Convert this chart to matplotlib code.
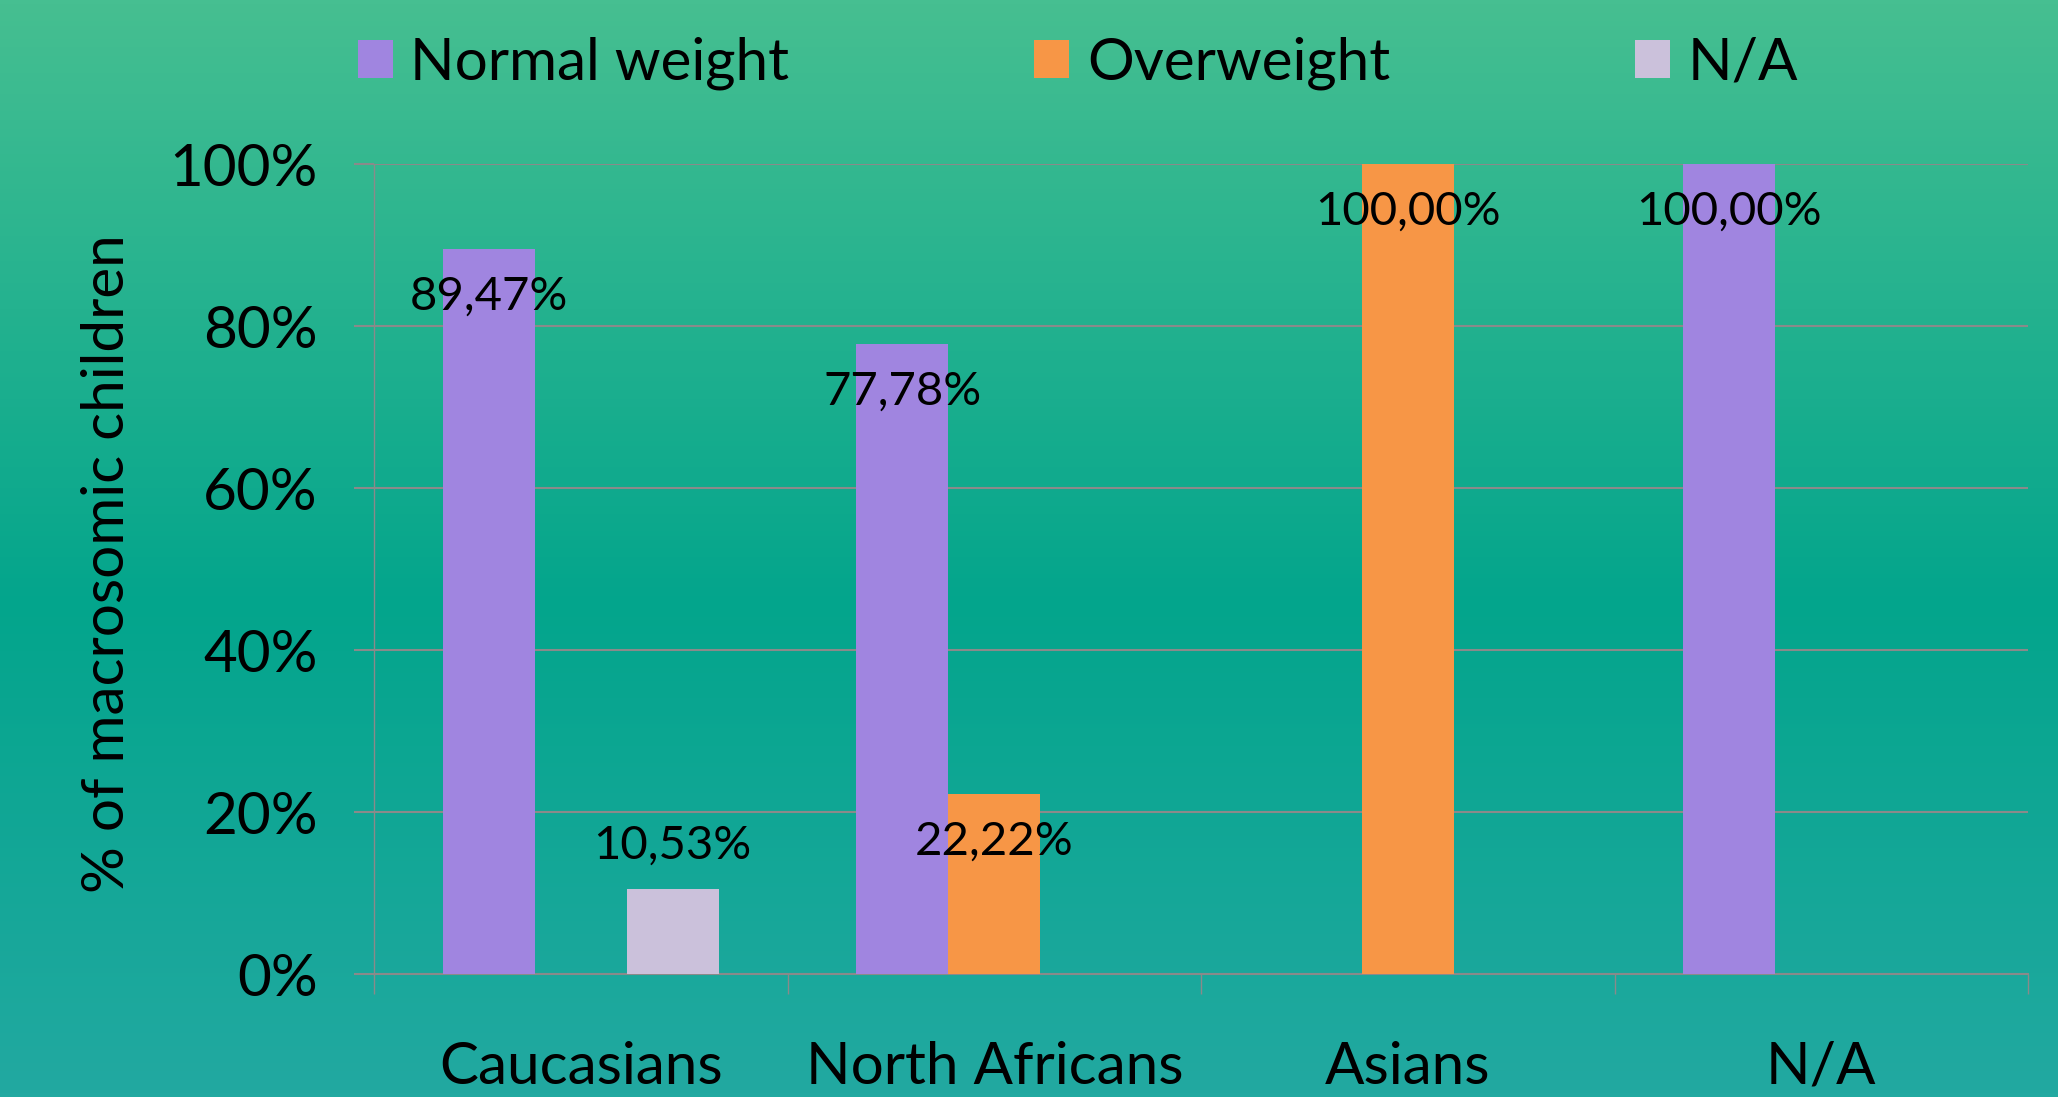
import numpy as np
import matplotlib
matplotlib.use("Agg")
import matplotlib.pyplot as plt
from matplotlib.patches import Patch
from matplotlib.colors import LinearSegmentedColormap

plt.rcParams['font.family'] = ['Lato', 'DejaVu Sans']

categories = ["Caucasians", "North Africans", "Asians", "N/A"]
series_names = ["Normal weight", "Overweight", "N/A"]
normal_weight = [89.47, 77.78, 0.0, 100.0]
overweight = [0.0, 22.22, 100.0, 0.0]
na_weight = [10.53, 0.0, 0.0, 0.0]
yticks = [0, 20, 40, 60, 80, 100]

colors = ["#A085E0", "#F79646", "#CBC1DB"]

W, H = 2058, 1097
fig = plt.figure(figsize=(W / 100, H / 100), dpi=100)

# background gradient
bg = fig.add_axes([0, 0, 1, 1], zorder=-10)
cmap = LinearSegmentedColormap.from_list(
    "bg", [(0.0, "#46BF91"), (0.28, "#24B28F"), (0.55, "#03A58C"), (1.0, "#22A9A1")])
grad = np.linspace(0, 1, 256).reshape(-1, 1)
bg.imshow(grad, aspect="auto", cmap=cmap, extent=[0, 1, 0, 1], origin="upper")
bg.axis("off")

ax = fig.add_axes([374 / W, 123 / H, (2028 - 374) / W, (974 - 164) / H])
ax.set_facecolor("none")

x = np.arange(len(categories))
bw = 70 / 315
data = [normal_weight, overweight, na_weight]
for i, (vals, col) in enumerate(zip(data, colors)):
    pos = x + (i - 1) * bw
    ax.bar(pos, vals, width=bw, color=col, zorder=3)
    for p, v in zip(pos, vals):
        if v <= 0:
            continue
        txt = f"{v:.2f}%".replace(".", ",")
        off = 31 if v < 15 else -34
        ax.annotate(txt, (p, v), xytext=(0, off), textcoords="offset points",
                    ha="center", va="center", fontsize=34, color="black", zorder=5)

ax.set_xlim(-0.5, len(categories) - 0.5)
ax.set_ylim(0, 100)
ax.set_yticks(yticks)
ax.set_yticklabels([f"{t}%" for t in yticks], fontsize=42)
ax.yaxis.grid(True, color="#8A8A8A", linewidth=1.5, zorder=0)
ax.tick_params(axis="y", length=14.5, width=1.5, color="#8A8A8A", pad=26)

ax.set_xticks(x)
ax.set_xticklabels(categories, fontsize=42)
ax.set_xticks(np.arange(-0.5, len(categories)), minor=True)
ax.tick_params(axis="x", which="major", length=0, pad=48)
ax.tick_params(axis="x", which="minor", length=14.5, width=1.0, color="#8A8A8A")

for s in ["top", "right"]:
    ax.spines[s].set_visible(False)
ax.spines["left"].set_color("#8A8A8A")
ax.spines["left"].set_linewidth(1.0)
ax.spines["bottom"].set_color("#8A8A8A")
ax.spines["bottom"].set_linewidth(1.5)

fig.text(108 / W, 1 - 564 / H, "% of macrosomic children", rotation=90,
         ha="center", va="center", fontsize=42)

handles = [Patch(facecolor=c, edgecolor="none") for c in colors]
fig.legend(handles, series_names, loc="center", bbox_to_anchor=(1078 / W, 1 - 63 / H),
           ncol=3, frameon=False, fontsize=42, handlelength=0.6, handleheight=0.62,
           handletextpad=0.3, columnspacing=4.2)

fig.savefig("out.png", dpi=100)
